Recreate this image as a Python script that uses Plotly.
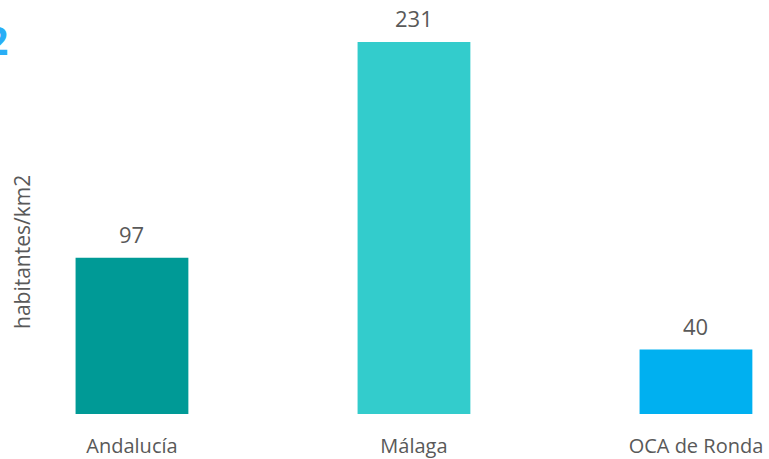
import plotly.graph_objects as go

categories = ["Andalucía", "Málaga", "OCA de Ronda"]
values = [97, 231, 40]
colors = ["#009A96", "#33CCCC", "#00B0F0"]
y_title = "habitantes/km2"
title_fragment = "2"

W, H = 769, 459
PLOT_BOTTOM = 414
fig = go.Figure()
fig.add_trace(go.Bar(
    x=categories, y=values, marker=dict(color=colors, line=dict(width=0)),
    width=0.4, hoverinfo="skip", showlegend=False,
))

for c, v in zip(categories, values):
    fig.add_annotation(x=c, y=v, text=str(v), showarrow=False, xref="x", yref="y",
                       yanchor="bottom", yshift=7,
                       font=dict(family="Open Sans", size=22, color="#595959"))

fig.add_annotation(xref="paper", yref="paper", x=22 / W, y=1 - 252 / PLOT_BOTTOM,
                   xanchor="center", yanchor="middle", text=y_title, textangle=-90,
                   showarrow=False, font=dict(family="Open Sans", size=21, color="#595959"))

fig.add_annotation(xref="paper", yref="paper", x=10 / W, y=1 - 40 / PLOT_BOTTOM,
                   xanchor="right", yanchor="middle",
                   text="<b>" + title_fragment + "</b>", showarrow=False,
                   font=dict(family="Open Sans", size=39, color="#29AEF6"))

fig.update_layout(
    width=W, height=H,
    margin=dict(l=0, r=0, t=0, b=H - PLOT_BOTTOM, autoexpand=False),
    paper_bgcolor="white", plot_bgcolor="white",
    xaxis=dict(range=[-0.468, 2.259], showgrid=False, zeroline=False, showline=False,
               automargin=False,
               ticks="outside", ticklen=14, tickcolor="rgba(0,0,0,0)",
               tickfont=dict(family="Open Sans", size=20, color="#595959")),
    yaxis=dict(range=[0, 257], visible=False, automargin=False),
)
fig.write_html("out.html", config={"displayModeBar": False},
               post_script="document.body.style.margin='0';document.body.style.overflow='hidden';")
